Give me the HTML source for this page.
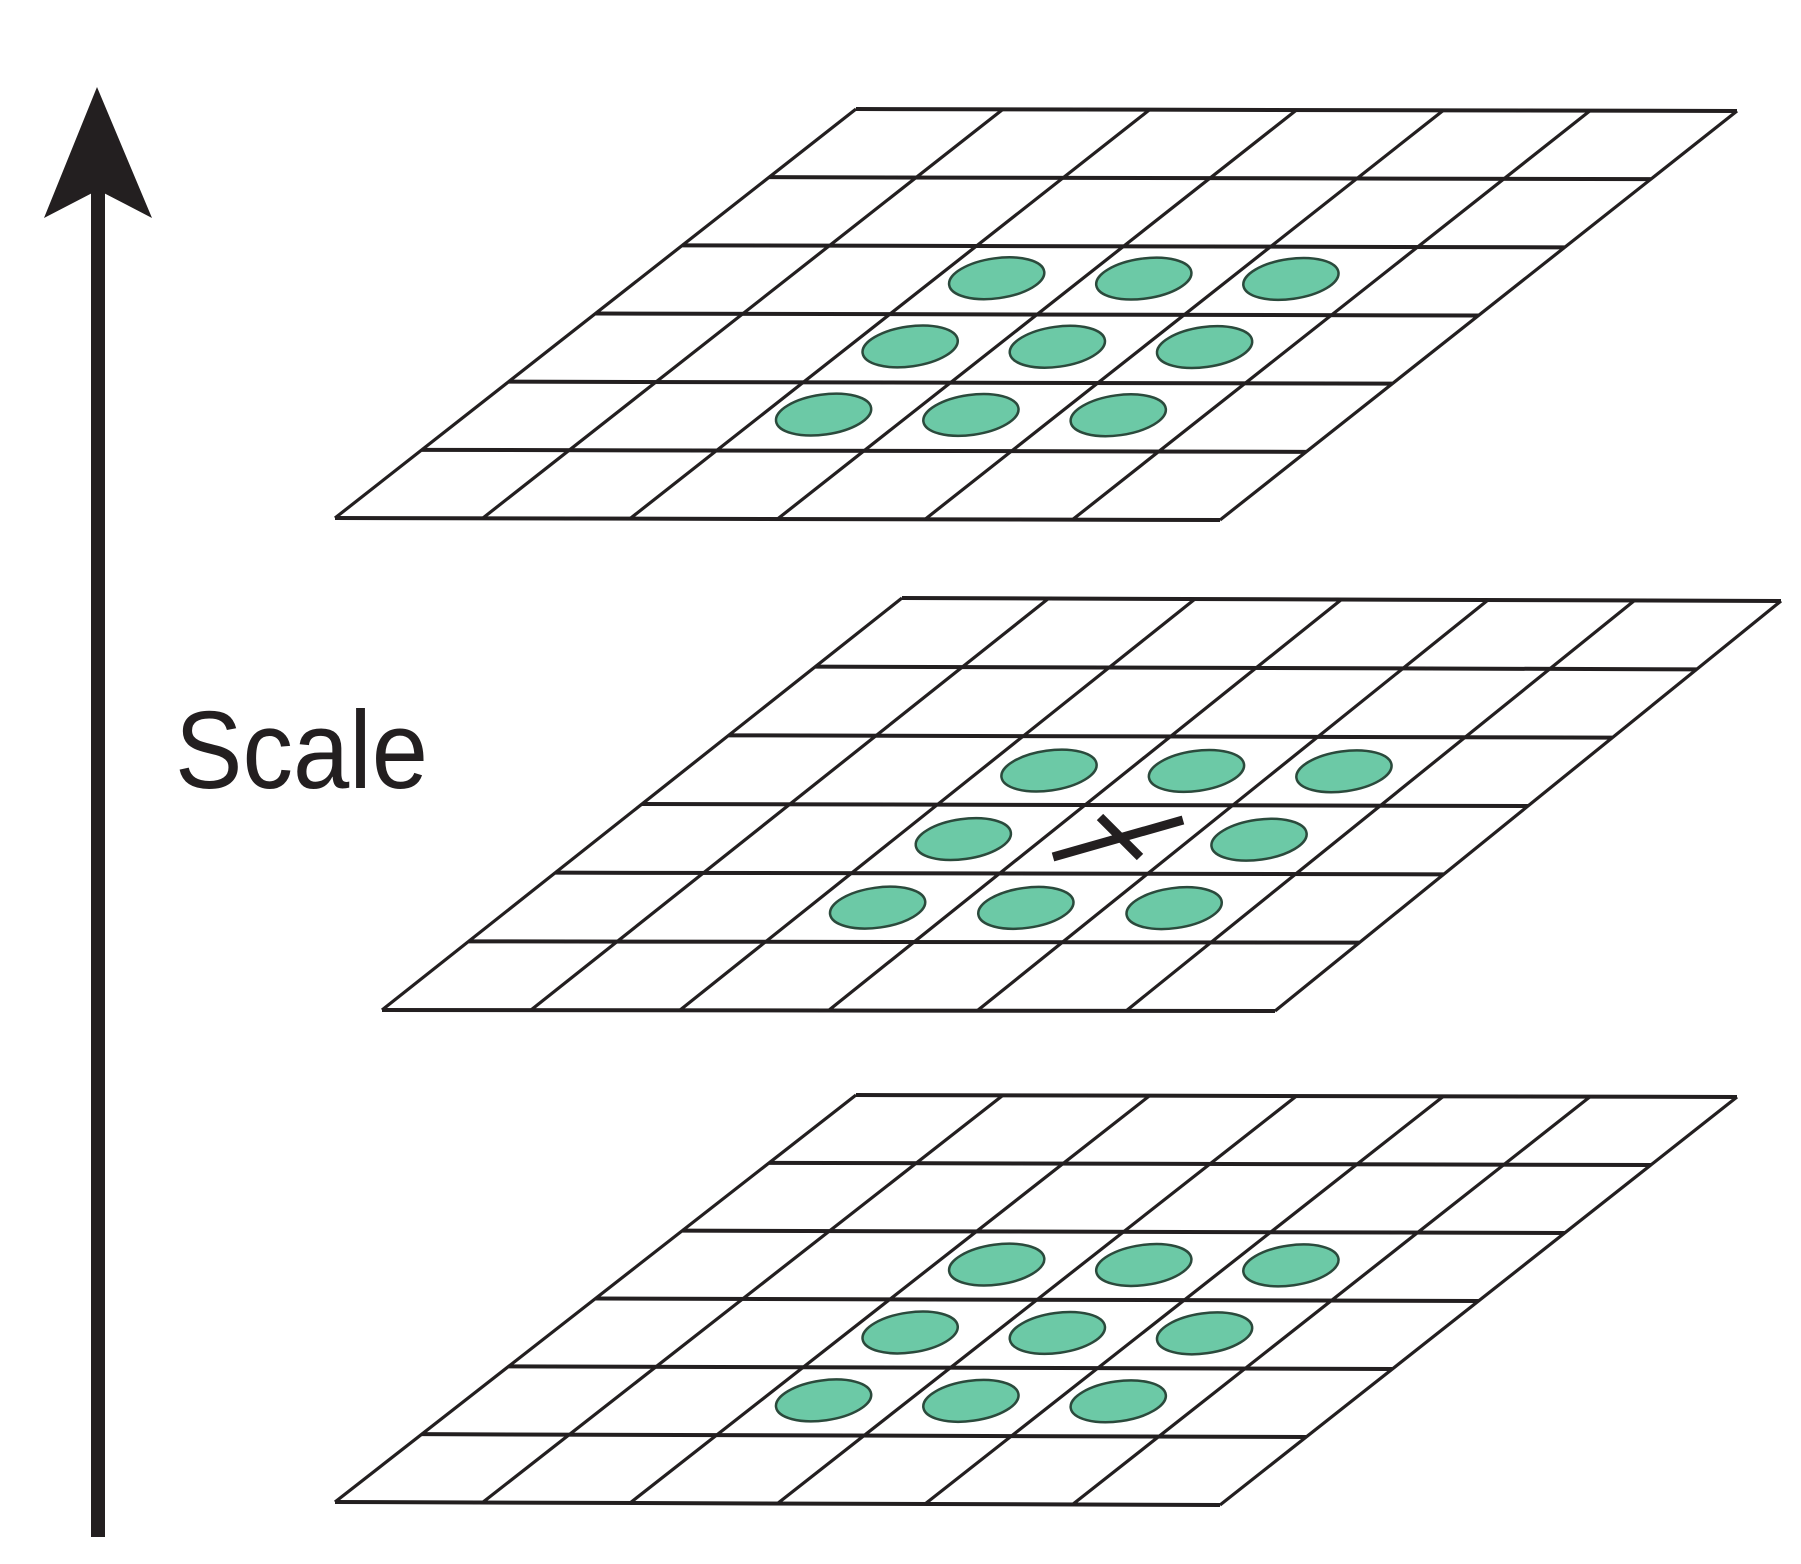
<!DOCTYPE html>
<html><head><meta charset="utf-8"><style>
html,body{margin:0;padding:0;background:#fff;}
svg{display:block;}
</style></head><body>
<svg id="s" width="1801" height="1564" viewBox="0 0 1801 1564" xmlns="http://www.w3.org/2000/svg">
<rect width="1801" height="1564" fill="#fff"/>
<line x1="98" y1="1537" x2="98" y2="180" stroke="#231f20" stroke-width="14"/>
<polygon points="97,87 152,218 98,190 44,218" fill="#231f20"/>
<text x="175" y="788" font-family="Liberation Sans, sans-serif" font-size="110" fill="#231f20" textLength="253" lengthAdjust="spacingAndGlyphs">Scale</text>
<g id="g"></g>
</svg>
<script>
var g=document.getElementById('g'),NS='http://www.w3.org/2000/svg';
function el(t,a){var e=document.createElementNS(NS,t);for(var k in a)e.setAttribute(k,a[k]);g.appendChild(e);return e;}
function grid(TL,TR,BL,BR,cells,x,dx,dy){
 function P(u,v){var lx=TL[0]+(BL[0]-TL[0])*v,ly=TL[1]+(BL[1]-TL[1])*v,rx=TR[0]+(BR[0]-TR[0])*v,ry=TR[1]+(BR[1]-TR[1])*v;return [lx+(rx-lx)*u,ly+(ry-ly)*u];}
 cells.forEach(function(c){var p=P((c[1]+0.5)/6,(c[0]+0.5)/6);p[0]+=dx;p[1]+=dy;
  el('ellipse',{cx:p[0],cy:p[1],rx:48,ry:20,transform:'rotate(-8 '+p[0]+' '+p[1]+')',fill:'#6cc9a6',stroke:'#2b4a3c','stroke-width':2.5});});
 for(var i=0;i<=6;i++){var a=P(0,i/6),b=P(1,i/6);el('line',{x1:a[0],y1:a[1],x2:b[0],y2:b[1],stroke:'#231f20','stroke-width':4});}
 for(var i=0;i<=6;i++){var a=P(i/6,0),b=P(i/6,1);el('line',{x1:a[0],y1:a[1],x2:b[0],y2:b[1],stroke:'#231f20','stroke-width':3.2});}
 if(x){el('line',{x1:1053,y1:857,x2:1183,y2:820,stroke:'#231f20','stroke-width':9});el('line',{x1:1100,y1:817,x2:1140,y2:857,stroke:'#231f20','stroke-width':9});}
}
var all=[[2,2],[2,3],[2,4],[3,2],[3,3],[3,4],[4,2],[4,3],[4,4]];
var mid=[[2,2],[2,3],[2,4],[3,2],[3,4],[4,2],[4,3],[4,4]];
grid([856,109],[1737,111],[335,518],[1220,520],all,false,-10,-2);
grid([902,598],[1781,601],[382,1010],[1275,1011],mid,true,-5,0);
grid([856,1095],[1737,1097],[335,1502],[1220,1505],all,false,-10,-1);
</script>
</body></html>
